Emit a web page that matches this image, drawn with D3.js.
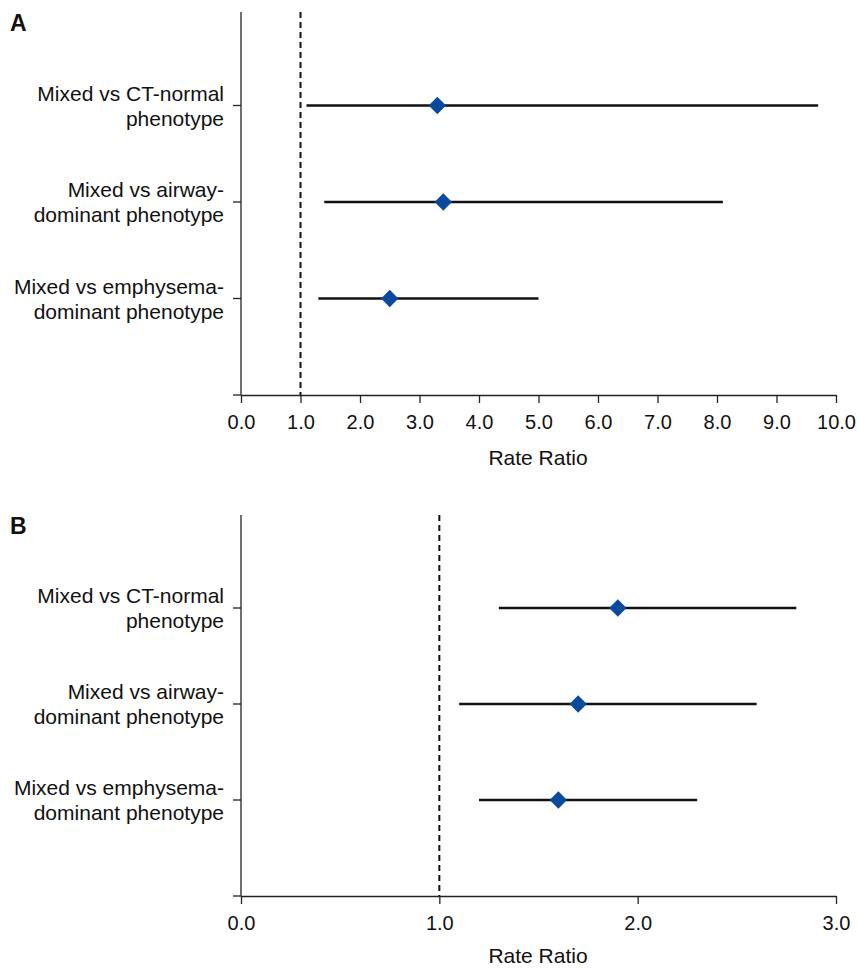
<!DOCTYPE html>
<html><head><meta charset="utf-8">
<script src="https://cdn.jsdelivr.net/npm/d3@7"></script>
<style>body{margin:0;background:#fff}svg{display:block}text{font-family:"Liberation Sans",Arial,sans-serif}</style>
</head><body>
<svg id="c" width="857" height="968"></svg>
<script>
const categories = [
  ["Mixed vs CT-normal", "phenotype"],
  ["Mixed vs airway-", "dominant phenotype"],
  ["Mixed vs emphysema-", "dominant phenotype"]
];
const estA = [3.3, 3.4, 2.5];
const lowA = [1.1, 1.4, 1.3];
const highA = [9.7, 8.1, 5.0];
const estB = [1.9, 1.7, 1.6];
const lowB = [1.3, 1.1, 1.2];
const highB = [2.8, 2.6, 2.3];
const ticksA = [0,1,2,3,4,5,6,7,8,9,10];
const ticksB = [0,1,2,3];

const svg = d3.select("#c");
const FS = 21;

function panel(letter, top, bottom, xmax, ticks, est, low, high, titleOff){
  const g = svg.append("g");
  const x = d3.scaleLinear().domain([0, xmax]).range([241, 836]);
  const y = d3.scaleLinear().domain([0, 4]).range([bottom, top]);
  const catY = i => y(3 - i);

  // y axis
  g.append("line").attr("x1",241).attr("x2",241).attr("y1",y(4)+3).attr("y2",y(0))
    .attr("stroke","#222").attr("stroke-width",1.3);
  [0,1,2,3].forEach(v => g.append("line").attr("x1",233).attr("x2",241)
    .attr("y1",y(v)).attr("y2",y(v)).attr("stroke","#222").attr("stroke-width",1.3));

  // x axis
  const ax = d3.axisBottom(x).tickValues(ticks).tickFormat(d3.format(".1f"))
    .tickSize(8).tickSizeOuter(0).tickPadding(12);
  const axg = g.append("g").attr("transform",`translate(0,${y(0)})`).call(ax);
  axg.select(".domain").attr("stroke","#222").attr("stroke-width",1.3);
  axg.selectAll(".tick line").attr("stroke","#222").attr("stroke-width",1.3);
  axg.selectAll(".tick text").attr("font-size",20).attr("fill","#111")
    .attr("font-family","'Liberation Sans',Arial,sans-serif");

  g.append("text").attr("x",538).attr("y",y(0)+titleOff).attr("text-anchor","middle")
    .attr("font-size",FS).attr("fill","#111").text("Rate Ratio");

  // reference line
  g.append("line").attr("x1",x(1)).attr("x2",x(1)).attr("y1",y(4)+3).attr("y2",y(0))
    .attr("stroke","#111").attr("stroke-width",2).attr("stroke-dasharray","6,4");

  // category labels
  categories.forEach((c,i) => {
    const t = g.append("text").attr("text-anchor","end").attr("font-size",FS).attr("fill","#111");
    t.append("tspan").attr("x",224).attr("y",catY(i)-5).text(c[0]);
    t.append("tspan").attr("x",224).attr("y",catY(i)+20).text(c[1]);
  });

  // CI lines and points
  est.forEach((e,i) => {
    g.append("line").attr("x1",x(low[i])).attr("x2",x(high[i]))
      .attr("y1",catY(i)).attr("y2",catY(i)).attr("stroke","#111").attr("stroke-width",2.6);
    g.append("path").attr("d", d3.symbol().type(d3.symbolSquare).size(150)())
      .attr("transform",`translate(${x(e)},${catY(i)}) rotate(45)`)
      .attr("fill","#0a4a9c");
  });

  svg.append("text").attr("x",10).attr("y",top+22).attr("font-size",23)
    .attr("font-weight","bold").attr("fill","#111").text(letter);
}

panel("A", 9, 395, 10, ticksA, estA, lowA, highA, 70);
panel("B", 512, 896, 3, ticksB, estB, lowB, highB, 67);
</script>
</body></html>
